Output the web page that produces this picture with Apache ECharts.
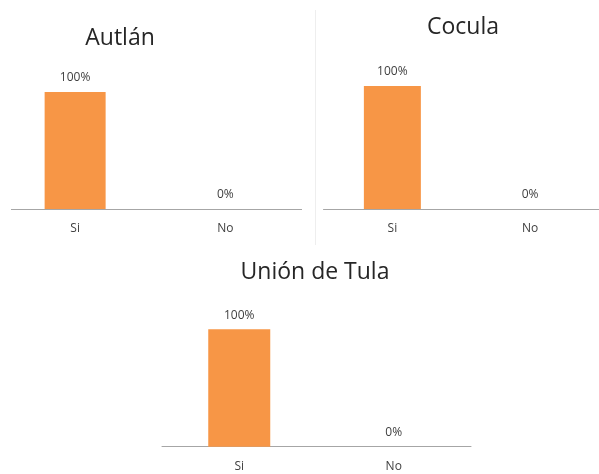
<!DOCTYPE html>
<html><head><meta charset="utf-8">
<script src="https://cdn.jsdelivr.net/npm/echarts@6/dist/echarts.min.js"></script>
<style>html,body{margin:0;padding:0;background:#fff}#c{width:599px;height:474px}</style>
</head><body><div id="c"></div>
<script>
const categories = ['Si', 'No'];
const titles = ['Autlán', 'Cocula', 'Unión de Tula'];
const autlanValues = [100, 0];
const coculaValues = [100, 0];
const unionValues = [100, 0];
const seriesValues = [autlanValues, coculaValues, unionValues];

const grids = [
  {left: -3.5, top: 92, width: 304, height: 117},
  {left: 323.5, top: 86, width: 282, height: 123},
  {left: 162, top: 329.3, width: 309, height: 117.4}
];
const barWidths = [61, 57, 62];
const titlePos = [{x: 115, y: 33}, {x: 458, y: 22}, {x: 310, y: 267}];
const font = '"Open Sans", sans-serif';

const chart = echarts.init(document.getElementById('c'), null, {renderer: 'canvas'});
chart.setOption({
  backgroundColor: '#fff',
  animation: false,
  title: titles.map((t, i) => ({
    text: t, left: titlePos[i].x, top: titlePos[i].y,
    textAlign: 'center', textVerticalAlign: 'middle',
    textStyle: {fontFamily: font, fontSize: 23, fontWeight: 'normal', color: '#262626'}
  })),
  grid: grids,
  xAxis: grids.map((g, i) => ({
    type: 'category', gridIndex: i, data: categories,
    axisLine: {show: i !== 0, lineStyle: {color: '#a6a6a6', width: 1}},
    axisTick: {show: false},
    axisLabel: {fontFamily: font, fontSize: 12, color: '#404040', margin: 14}
  })),
  yAxis: grids.map((g, i) => ({
    type: 'value', gridIndex: i, min: 0, max: 100, show: false
  })),
  series: seriesValues.map((vals, i) => ({
    type: 'bar', xAxisIndex: i, yAxisIndex: i, data: vals,
    barWidth: barWidths[i],
    itemStyle: {color: '#f79646'},
    label: {show: true, position: 'top', distance: 8, formatter: '{c}%',
      fontFamily: font, fontSize: 12, color: '#404040'}
  })),
  graphic: [
    {type: 'line', shape: {x1: 11, y1: 209.5, x2: 302, y2: 209.5}, style: {stroke: '#a6a6a6', lineWidth: 1}, silent: true},
    {type: 'line', shape: {x1: 315.5, y1: 10, x2: 315.5, y2: 245}, style: {stroke: '#eeeeee', lineWidth: 1}, silent: true}
  ]
});
</script></body></html>
